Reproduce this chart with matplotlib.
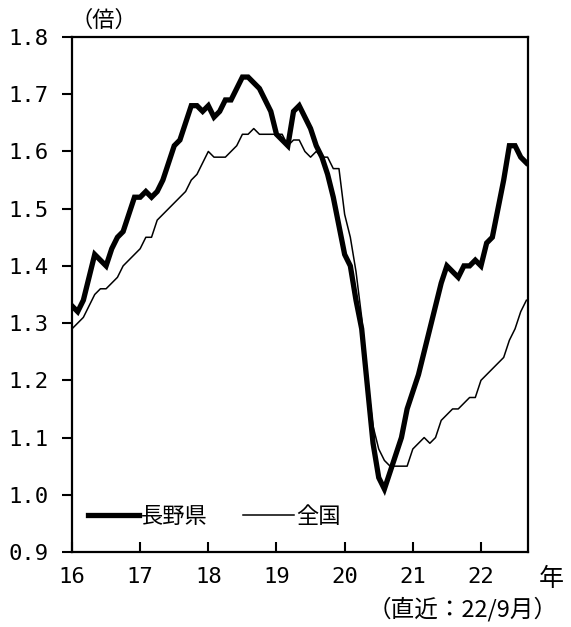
import matplotlib
matplotlib.use("Agg")
import matplotlib.pyplot as plt
import numpy as np

plt.rcParams['font.family'] = ['Noto Sans CJK JP', 'DejaVu Sans']

# Monthly data, Jan 2016 .. Sep 2022
nagano = [
    1.33, 1.32, 1.34, 1.38, 1.42, 1.41, 1.40, 1.43, 1.45, 1.46, 1.49, 1.52,
    1.52, 1.53, 1.52, 1.53, 1.55, 1.58, 1.61, 1.62, 1.65, 1.68, 1.68, 1.67,
    1.68, 1.66, 1.67, 1.69, 1.69, 1.71, 1.73, 1.73, 1.72, 1.71, 1.69, 1.67,
    1.63, 1.62, 1.61, 1.67, 1.68, 1.66, 1.64, 1.61, 1.59, 1.56, 1.52, 1.47,
    1.42, 1.40, 1.34, 1.29, 1.19, 1.09, 1.03, 1.01, 1.04, 1.07, 1.10, 1.15,
    1.18, 1.21, 1.25, 1.29, 1.33, 1.37, 1.40, 1.39, 1.38, 1.40, 1.40, 1.41,
    1.40, 1.44, 1.45, 1.50, 1.55, 1.61, 1.61, 1.59, 1.58,
]
zenkoku = [
    1.29, 1.30, 1.31, 1.33, 1.35, 1.36, 1.36, 1.37, 1.38, 1.40, 1.41, 1.42,
    1.43, 1.45, 1.45, 1.48, 1.49, 1.50, 1.51, 1.52, 1.53, 1.55, 1.56, 1.58,
    1.60, 1.59, 1.59, 1.59, 1.60, 1.61, 1.63, 1.63, 1.64, 1.63, 1.63, 1.63,
    1.63, 1.63, 1.61, 1.62, 1.62, 1.60, 1.59, 1.60, 1.59, 1.59, 1.57, 1.57,
    1.49, 1.45, 1.39, 1.31, 1.20, 1.12, 1.08, 1.06, 1.05, 1.05, 1.05, 1.05,
    1.08, 1.09, 1.10, 1.09, 1.10, 1.13, 1.14, 1.15, 1.15, 1.16, 1.17, 1.17,
    1.20, 1.21, 1.22, 1.23, 1.24, 1.27, 1.29, 1.32, 1.34,
]
start_year = 16
x_ticks = [16, 17, 18, 19, 20, 21, 22]
x_labels = ['16', '17', '18', '19', '20', '21', '22']
y_ticks = [0.9, 1.0, 1.1, 1.2, 1.3, 1.4, 1.5, 1.6, 1.7, 1.8]
y_labels = ['0.9', '1.0', '1.1', '1.2', '1.3', '1.4', '1.5', '1.6', '1.7', '1.8']
series_names = ['長野県', '全国']

t = start_year + np.arange(len(nagano)) / 12.0

fig = plt.figure(figsize=(5.71, 6.27), dpi=100)
ax = fig.add_axes([72/571, 1-552/627, (528-72)/571, (552-37)/627])

ax.plot(t, nagano, color='black', lw=3.8, solid_joinstyle='miter', label=series_names[0])
ax.plot(t, zenkoku, color='black', lw=1.1, label=series_names[1])

ax.set_xlim(16, 22.69)
ax.set_ylim(0.9, 1.8)

mono = 'DejaVu Sans Mono'
ax.set_xticks(x_ticks)
ax.set_xticklabels(x_labels, family=mono, fontsize=16)
ax.set_yticks(y_ticks)
ax.set_yticklabels(y_labels, family=mono, fontsize=16)
ax.tick_params(axis='x', direction='in', length=7, width=1.5, pad=11)
ax.tick_params(axis='y', direction='out', length=7, width=1.5, pad=10)

for s in ax.spines.values():
    s.set_linewidth(1.6)

fig.text(104/571, 1-20/627, '（倍）', ha='center', va='center', fontsize=16)
fig.text(551/571, 1-579/627, '年', ha='center', va='center', fontsize=18)
fig.text(463/571, 1-609/627, '（直近：22/9月）', ha='center', va='center', fontsize=17)

leg = ax.legend(loc='lower left', bbox_to_anchor=(0.015, 0.03), ncol=2, frameon=False,
                fontsize=16, handlelength=2.3, handletextpad=0.1, columnspacing=1.6,
                borderaxespad=0)

fig.savefig('out.png', dpi=100)
